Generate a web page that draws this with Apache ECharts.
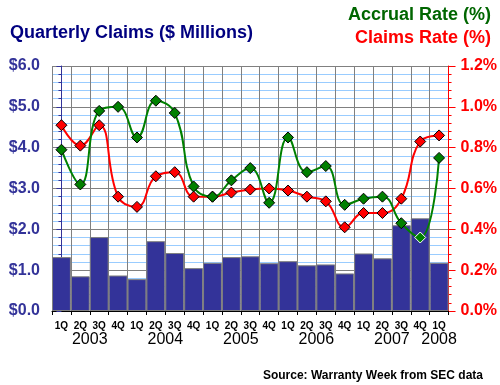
<!DOCTYPE html>
<html>
<head>
<meta charset="utf-8">
<script src="https://cdn.jsdelivr.net/npm/echarts@6/dist/echarts.min.js"></script>
<style>
html,body{margin:0;padding:0;background:#fff;}
#c{width:500px;height:385px;}
</style>
</head>
<body>
<div id="c"></div>
<script>
var categories = ['1Q03','2Q03','3Q03','4Q03','1Q04','2Q04','3Q04','4Q04','1Q05','2Q05','3Q05','4Q05','1Q06','2Q06','3Q06','4Q06','1Q07','2Q07','3Q07','4Q07','1Q08'];
var claims = [1.32,0.85,1.81,0.87,0.78,1.71,1.42,1.05,1.18,1.32,1.34,1.17,1.22,1.12,1.14,0.92,1.41,1.29,2.10,2.27,1.18];
var claimsRate = [0.91,0.81,0.91,0.56,0.51,0.66,0.68,0.56,0.56,0.58,0.595,0.60,0.59,0.56,0.537,0.41,0.48,0.48,0.55,0.83,0.86];
var accrualRate = [0.79,0.62,0.98,1.00,0.85,1.03,0.97,0.61,0.56,0.64,0.70,0.53,0.85,0.68,0.71,0.52,0.55,0.56,0.43,0.36,0.75];
var years = ['2003','2004','2005','2006','2007','2008'];
var yearPos = [1.5,5.5,9.5,13.5,17.5,20];

var FONT = "'Liberation Sans', Arial, sans-serif";
var chart = echarts.init(document.getElementById('c'), null, {renderer:'canvas'});

var accrualData = accrualRate.map(function(v, i){
  if (i === 19) return {value: v, itemStyle: {borderColor: '#ffffff'}};
  return v;
});

chart.setOption({
  animation: false,
  backgroundColor: '#ffffff',
  textStyle: {fontFamily: FONT},
  title: [
    {text: 'Quarterly Claims ($ Millions)', left: 5, top: 19,
     textStyle: {fontFamily: FONT, fontSize: 18, fontWeight: 'bold', color: '#000080'}},
    {text: 'Accrual Rate (%)', right: 4, top: 1,
     textStyle: {fontFamily: FONT, fontSize: 18, fontWeight: 'bold', color: '#006600'}},
    {text: 'Claims Rate (%)', right: 4, top: 24,
     textStyle: {fontFamily: FONT, fontSize: 18, fontWeight: 'bold', color: '#ff0000'}},
    {text: 'Source: Warranty Week from SEC data', right: 12, top: 365,
     textStyle: {fontFamily: FONT, fontSize: 12, fontWeight: 'bold', color: '#000000'}}
  ],
  grid: {left: 52, right: 51, top: 66, bottom: 74, containLabel: false},
  xAxis: [
    {type: 'category', data: categories, boundaryGap: true,
     axisLine: {show: true, lineStyle: {color: '#000000', width: 1}},
     axisTick: {show: true, length: 4, interval: 0, lineStyle: {color: '#000000'}},
     axisLabel: {interval: 0, margin: 10, fontFamily: FONT, fontSize: 10, fontWeight: 'bold', color: '#000000',
       formatter: function(v){ return v.slice(0,2); }},
     splitLine: {show: true, interval: 0, lineStyle: {color: '#808080', width: 1}}
    },
    {type: 'value', position: 'bottom', min: -0.5, max: 20.5, interval: 0.5,
     axisLine: {show: false}, axisTick: {show: false}, splitLine: {show: false},
     axisLabel: {show: true, margin: 21, fontFamily: FONT, fontSize: 16, color: '#000000',
       showMinLabel: true, showMaxLabel: true,
       formatter: function(v){
         for (var k = 0; k < yearPos.length; k++) {
           if (Math.abs(v - yearPos[k]) < 1e-6) return years[k];
         }
         return '';
       }}
    }
  ],
  yAxis: [
    {type: 'value', position: 'left', min: 0, max: 6, interval: 1,
     axisLine: {show: true, lineStyle: {color: '#333399', width: 1}},
     axisTick: {show: true, length: 5, lineStyle: {color: '#333399'}},
     minorTick: {show: true, splitNumber: 5, length: 3, lineStyle: {color: '#333399'}},
     axisLabel: {margin: 12, fontFamily: FONT, fontSize: 16, fontWeight: 'bold', color: '#333399',
       formatter: function(v){ return '$' + v.toFixed(1); }},
     splitLine: {show: true, lineStyle: {color: '#808080', width: 1}},
     minorSplitLine: {show: true, lineStyle: {color: '#99ccff', width: 1}}
    },
    {type: 'value', position: 'right', min: 0, max: 1.2, interval: 0.2,
     axisLine: {show: true, lineStyle: {color: '#ff0000', width: 1}},
     axisTick: {show: true, length: 7, lineStyle: {color: '#ff0000'}},
     minorTick: {show: true, splitNumber: 5, length: 3, lineStyle: {color: '#ff0000'}},
     axisLabel: {margin: 12, fontFamily: FONT, fontSize: 16, fontWeight: 'bold', color: '#ff0000',
       formatter: function(v){ return v.toFixed(1) + '%'; }},
     splitLine: {show: false}
    }
  ],
  series: [
    {type: 'bar', data: claims, xAxisIndex: 0, yAxisIndex: 0, barCategoryGap: '0%',
     itemStyle: {color: '#333399', borderColor: '#808080', borderWidth: 1}, z: 2},
    {type: 'line', data: claimsRate, xAxisIndex: 0, yAxisIndex: 1, smooth: 0.45,
     symbol: 'diamond', symbolSize: 11, showAllSymbol: true,
     lineStyle: {color: '#ff0000', width: 2},
     itemStyle: {color: '#ff0000', borderColor: '#000000', borderWidth: 1}, z: 3},
    {type: 'line', data: accrualData, xAxisIndex: 0, yAxisIndex: 1, smooth: 0.45,
     symbol: 'diamond', symbolSize: 11, showAllSymbol: true,
     lineStyle: {color: '#008000', width: 2},
     itemStyle: {color: '#008000', borderColor: '#000000', borderWidth: 1}, z: 4}
  ]
});
</script>
</body>
</html>
